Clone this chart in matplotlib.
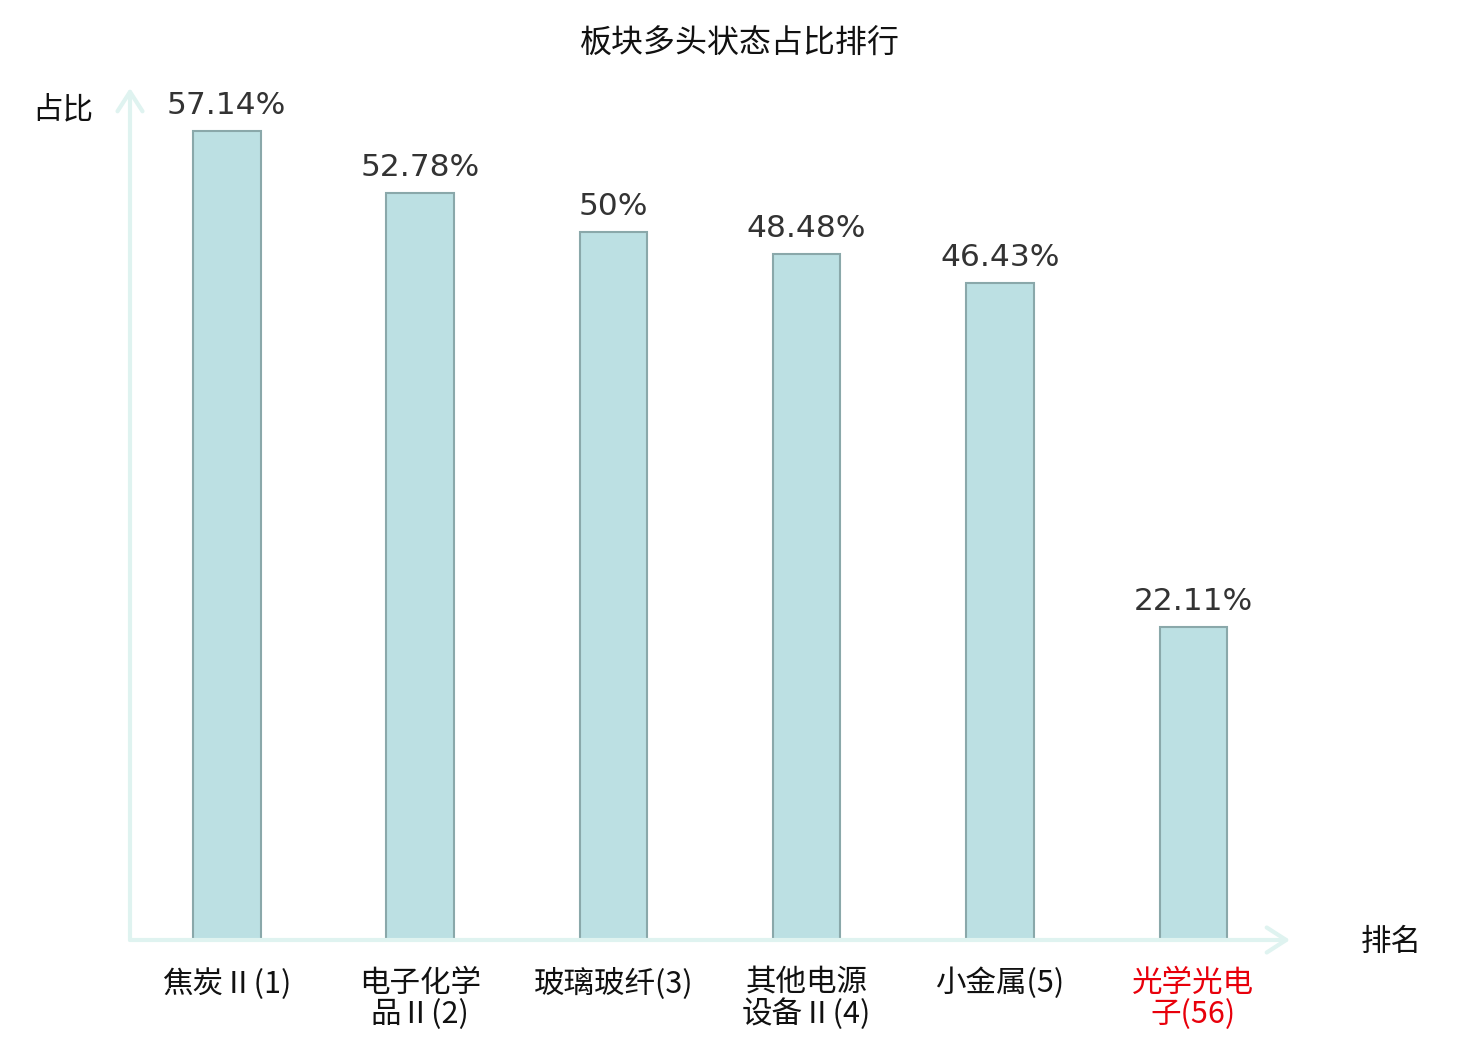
import numpy as np
import matplotlib
matplotlib.use('Agg')
import matplotlib.pyplot as plt

plt.rcParams['font.family'] = ['Noto Sans CJK SC', 'DejaVu Sans']

# 数据
categories = ['焦炭Ⅱ(1)', '电子化学\n品Ⅱ(2)', '玻璃玻纤(3)', '其他电源\n设备Ⅱ(4)', '小金属(5)', '光学光电\n子(56)']
values = [57.14, 52.78, 50, 48.48, 46.43, 22.11]
value_labels = ['57.14%', '52.78%', '50%', '48.48%', '46.43%', '22.11%']
label_colors = ['#111111'] * 5 + ['#e8000b']

axis_color = '#dff3f0'

fig = plt.figure(figsize=(14.8, 10.4), dpi=100)
ax = fig.add_axes([130/1480, 100/1040, 1160/1480, 852/1040])

x = np.arange(len(categories))
bars = ax.bar(x, values, width=0.35, color='#bce0e3', edgecolor='#8aa8aa', linewidth=1.5, zorder=3)

for xi, v, lab in zip(x, values, value_labels):
    ax.annotate(lab, (xi, v), xytext=(0, 8), textcoords='offset points',
                ha='center', va='bottom', fontsize=22.5, color='#333333',
                family='DejaVu Sans')

ax.set_xlim(-0.5, 5.5)
ax.set_ylim(0, 60.2)

for s in ax.spines.values():
    s.set_visible(False)
ax.set_yticks([])
ax.set_xticks(x)
ax.set_xticklabels(categories, fontsize=22, linespacing=1.0)
ax.tick_params(axis='x', length=0, pad=20)
for t, c in zip(ax.get_xticklabels(), label_colors):
    t.set_color(c)

# 坐标轴箭头
arrow_kw = dict(arrowstyle='->,head_length=1.4,head_width=0.9', color=axis_color, lw=3,
                shrinkA=0, shrinkB=0)
ax.annotate('', xy=(1.0, 0), xytext=(0, 0), xycoords='axes fraction',
            textcoords='axes fraction', arrowprops=arrow_kw, annotation_clip=False)
ax.annotate('', xy=(0, 1.0), xytext=(0, 0), xycoords='axes fraction',
            textcoords='axes fraction', arrowprops=arrow_kw, annotation_clip=False)

fig.text(740/1480, 1 - 44/1040, '板块多头状态占比排行', ha='center', va='center', fontsize=23, color='#111111')
fig.text(63/1480, 1 - 110/1040, '占比', ha='center', va='center', fontsize=22, color='#111111')
fig.text(1391/1480, 1 - 942/1040, '排名', ha='center', va='center', fontsize=22, color='#111111')

fig.savefig('out.png', dpi=100)
